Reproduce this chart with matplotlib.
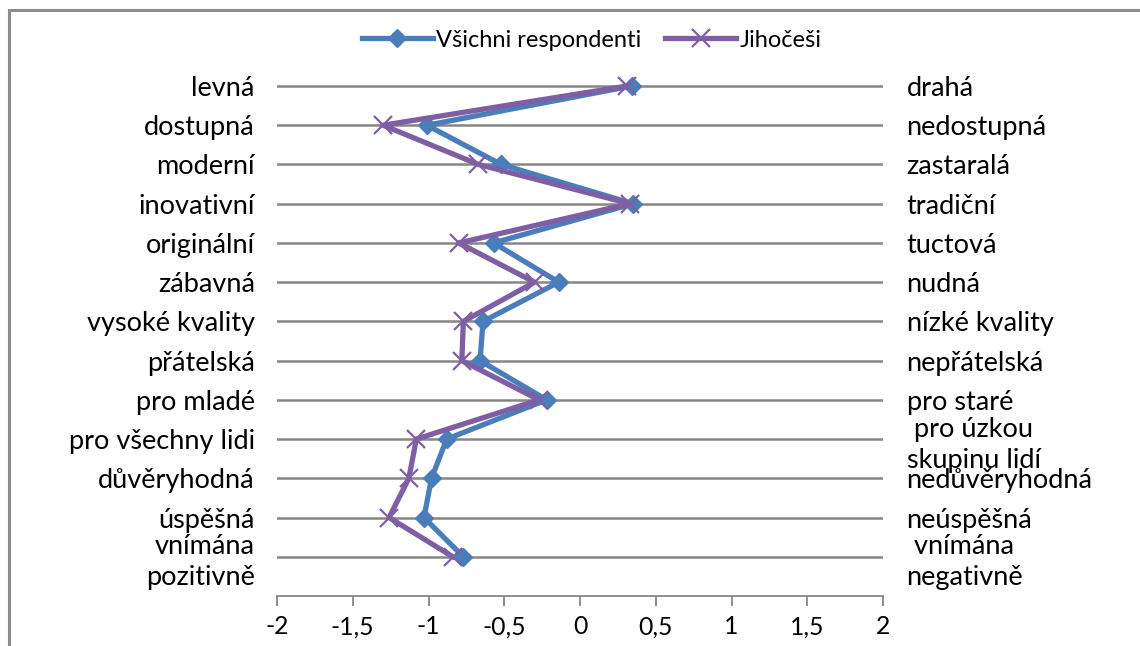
import matplotlib
matplotlib.use("Agg")
import matplotlib.pyplot as plt
from matplotlib.lines import Line2D

plt.rcParams['font.family'] = ['Lato', 'DejaVu Sans']

# semantic differential pairs, top to bottom
left_labels = ["levná", "dostupná", "moderní", "inovativní", "originální", "zábavná",
               "vysoké kvality", "přátelská", "pro mladé", "pro všechny lidi",
               "důvěryhodná", "úspěšná", "vnímána\npozitivně"]
right_labels = ["drahá", "nedostupná", "zastaralá", "tradiční", "tuctová", "nudná",
                "nízké kvality", "nepřátelská", "pro staré", " pro úzkou\nskupinu lidí",
                "nedůvěryhodná", "neúspěšná", " vnímána\nnegativně"]

vsichni = [0.34, -1.01, -0.52, 0.35, -0.57, -0.14, -0.64, -0.66, -0.22, -0.88, -0.98, -1.03, -0.77]
jihocesi = [0.31, -1.30, -0.67, 0.33, -0.80, -0.30, -0.77, -0.78, -0.27, -1.08, -1.13, -1.26, -0.84]

x_ticks = [-2, -1.5, -1, -0.5, 0, 0.5, 1, 1.5, 2]
x_tick_labels = ["-2", "-1,5", "-1", "-0,5", "0", "0,5", "1", "1,5", "2"]

blue = "#4a7ebb"
purple = "#7f5fa3"
grid_gray = "#868686"
label_fs = 19.5
tick_fs = 17.8
legend_fs = 17

fig = plt.figure(figsize=(11.4, 6.46), dpi=100)
ax = fig.add_axes([277 / 1140, 50 / 646, 606 / 1140, 549.2 / 646])

n = len(left_labels)
ypos = [n - i for i in range(n)]

ax.plot(vsichni, ypos, color=blue, lw=3.8, marker="D", ms=9.5, zorder=3)
ax.plot(jihocesi, ypos, color=purple, lw=3.8, marker="x", ms=13, mew=1.6, zorder=4)

ax.set_xlim(-2, 2)
ax.set_ylim(0, n + 1)
for y in ypos:
    ax.axhline(y, color=grid_gray, lw=1.8, zorder=1)

for side in ["top", "right", "left"]:
    ax.spines[side].set_visible(False)
ax.spines["bottom"].set_color(grid_gray)
ax.spines["bottom"].set_linewidth(1.3)

ax.set_xticks(x_ticks)
ax.set_xticklabels(x_tick_labels, fontsize=tick_fs)
ax.tick_params(axis="x", length=7, width=1.3, color=grid_gray, pad=7)

ax.set_yticks(ypos)
ax.set_yticklabels(left_labels, fontsize=label_fs, linespacing=1.3)
ax.tick_params(axis="y", length=0, pad=16)

ax2 = ax.twinx()
ax2.set_ylim(ax.get_ylim())
ax2.set_yticks(ypos)
ax2.set_yticklabels(right_labels, fontsize=label_fs, linespacing=1.3)
ax2.tick_params(axis="y", length=0, pad=17)
for side in ["top", "right", "left", "bottom"]:
    ax2.spines[side].set_visible(False)

handles = [
    Line2D([], [], color=blue, lw=3.8, marker="D", ms=9.5),
    Line2D([], [], color=purple, lw=3.8, marker="x", ms=13, mew=1.6),
]
fig.legend(handles, ["Všichni respondenti", "Jihočeši"], loc="center",
           bbox_to_anchor=(0.519, 0.938), ncol=2, frameon=False, fontsize=legend_fs,
           handlelength=3.0, handletextpad=0.15, columnspacing=1.0)

# chart border
border = plt.Rectangle((9 / 1140, -0.1), 1.2, (646 - 10) / 646 + 0.1, transform=fig.transFigure,
                       fill=False, edgecolor="#8c8c8c", lw=2.2)
fig.add_artist(border)

fig.savefig("out.png", dpi=100)
